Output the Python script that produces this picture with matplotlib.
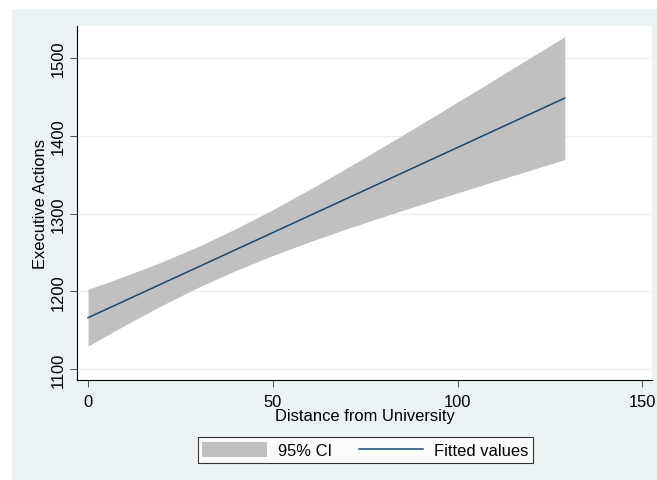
import matplotlib
matplotlib.use('Agg')
import matplotlib.pyplot as plt
from matplotlib.patches import Rectangle

# values
distance = [0, 10, 20, 30, 40, 50, 60, 70, 80, 90, 100, 110, 120, 129]
ci_lower = [1129.5, 1156.3, 1181.8, 1205.4, 1226.7, 1246.0, 1263.7,
            1280.2, 1296.1, 1311.5, 1326.6, 1341.5, 1356.2, 1369.4]
ci_upper = [1202.5, 1219.5, 1237.8, 1258.0, 1280.5, 1305.0, 1331.1,
            1358.4, 1386.3, 1414.7, 1443.4, 1472.3, 1501.4, 1527.6]
fit_x = [0, 129]
fit_y = [1166.0, 1448.5]

x_ticks = [0, 50, 100, 150]
y_ticks = [1100, 1200, 1300, 1400, 1500]

plt.rcParams['font.family'] = ['Liberation Sans', 'DejaVu Sans']
fs = 11.9
bg = '#EAF2F3'

W, H = 657, 481
fig = plt.figure(figsize=(W / 100, H / 100), dpi=100, facecolor='white')
fig.patches.append(Rectangle((12 / W, 0), 1, 1 - 10 / H, transform=fig.transFigure,
                             facecolor=bg, edgecolor='none', zorder=-1))

ax = fig.add_axes([77 / W, 1 - 381 / H, (652 - 77) / W, (381 - 27) / H])
ax.set_facecolor('white')

ax.fill_between(distance, ci_lower, ci_upper, color='#C0C0C0', linewidth=0,
                label='95% CI', zorder=2)
ax.plot(fit_x, fit_y, color='#1A476F', linewidth=1.1, label='Fitted values', zorder=3)

ax.set_xlim(-2.98, 152.6)
ax.set_ylim(1085.9, 1541.2)
ax.set_xticks(x_ticks)
ax.set_yticks(y_ticks)
ax.set_yticklabels([str(v) for v in y_ticks], rotation=90, va='center')
ax.grid(axis='y', color=bg, linewidth=1.0, zorder=1)
ax.set_axisbelow(True)

for s in ['top', 'right']:
    ax.spines[s].set_visible(False)
for s in ['left', 'bottom']:
    ax.spines[s].set_linewidth(0.8)
    ax.spines[s].set_color('black')

ax.tick_params(axis='both', direction='out', length=5, width=0.6, color='#333333',
               labelsize=fs)
ax.tick_params(axis='x', pad=5)
ax.tick_params(axis='y', pad=3)

ax.set_xlabel('Distance from University', fontsize=fs, labelpad=-0.5)
ax.set_ylabel('Executive Actions', fontsize=fs, labelpad=2)

handles, labels = ax.get_legend_handles_labels()
leg = fig.legend(handles, labels, loc='center', bbox_to_anchor=(365.5 / W, 1 - 451 / H),
                 ncol=2, fontsize=fs, frameon=True, fancybox=False, edgecolor='black',
                 handlelength=3.9, handleheight=1.0, handletextpad=0.65,
                 columnspacing=1.65, borderpad=0.3)
leg.get_frame().set_linewidth(0.8)
leg.get_frame().set_facecolor('white')

fig.savefig('out.png', dpi=100, facecolor=fig.get_facecolor())
